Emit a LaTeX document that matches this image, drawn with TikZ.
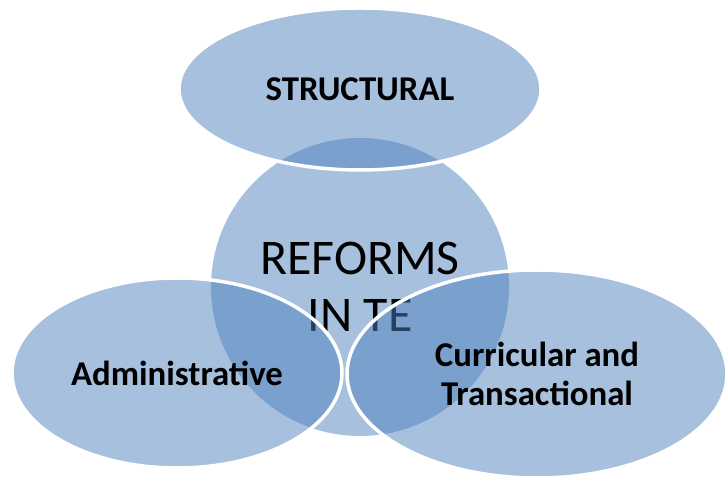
\documentclass[tikz,border=0pt]{standalone}
\usepackage{fontspec}
\setmainfont{Carlito}
\usepackage{tikz}
\usetikzlibrary{positioning, shapes}

\definecolor{reformblue}{RGB}{79,129,189}

\begin{document}
\begin{tikzpicture}[node distance=2cm, on grid,
			blob/.style={fill=reformblue, fill opacity=0.5, text opacity=1, inner sep=0pt},
			ring/.append style={blob, ellipse, draw=white, line width=1pt, draw opacity=1,
				font=\fontsize{9.9}{10.9}\selectfont\bfseries, align=center} ]
			\useasboundingbox (0,0) rectangle (7.25,4.80);
			
			%Centro:
			\node[blob, circle, minimum size=2.98cm, align=center,
				font=\fontsize{14.2}{16.2}\selectfont] (core) at (3.60,1.93) {REFORMS\\IN TE};
			
			%Ramos: (posicao relativa ao centro)
			\node[ring, minimum width=3.62cm, minimum height=1.62cm]
				(structural) [above=1.98cm of core]                  {STRUCTURAL};
			\node[ring, minimum width=3.30cm, minimum height=1.90cm]
				(admin)      [below left=0.86cm and 1.83cm of core]  {Administrative};
			\node[ring, minimum width=3.80cm, minimum height=2.08cm]
				(curricular) [below right=0.87cm and 1.77cm of core] {Curricular and\\Transactional};
		\end{tikzpicture}
\end{document}
